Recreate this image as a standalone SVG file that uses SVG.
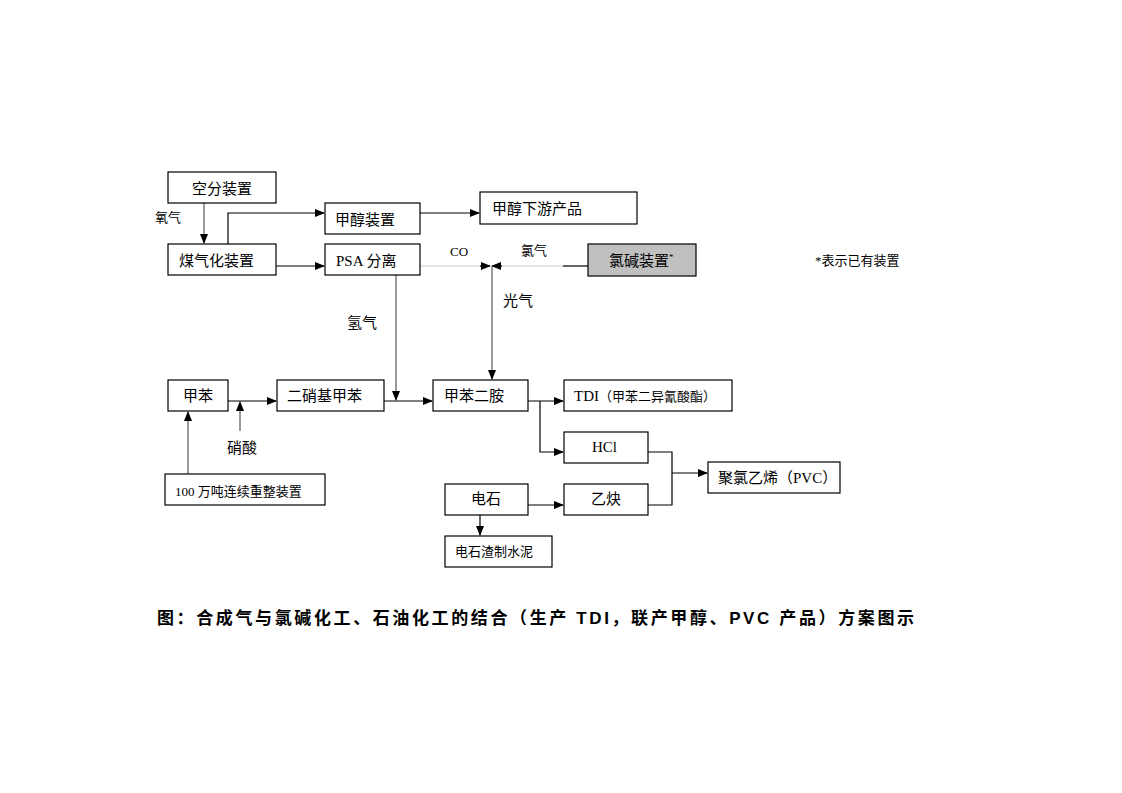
<svg xmlns="http://www.w3.org/2000/svg" width="1122" height="793" viewBox="0 0 1122 793">
<style>
.box{fill:#fff;stroke:#000;stroke-width:1.2}
.gbox{fill:#c0c0c0;stroke:#000;stroke-width:1.2}
.t{font-family:"Liberation Serif","Noto Sans CJK SC",serif;font-size:15px;fill:#000}
.s{font-family:"Liberation Serif","Noto Sans CJK SC",serif;font-size:13px;fill:#000}
.ln{fill:none;stroke:#000;stroke-width:1.2}
.gl{fill:none;stroke:#777;stroke-width:1.5}
.lg{fill:none;stroke:#ccc;stroke-width:1.2}
.title{font-family:"Liberation Sans","Noto Sans CJK SC",sans-serif;font-size:17px;font-weight:bold;fill:#000}
</style>
<defs>
<marker id="ah" markerWidth="10" markerHeight="8" refX="9" refY="4" orient="auto" markerUnits="userSpaceOnUse">
<path d="M0,0 L10,4 L0,8 Z" fill="#000"/>
</marker>
</defs>
<rect width="1122" height="793" fill="#fff"/>
<g id="connectors">
<path class="gl" d="M204,203 V243" marker-end="url(#ah)"/>
<path class="ln" d="M228,244 V213 H324" marker-end="url(#ah)"/>
<path class="ln" d="M276,266 H324" marker-end="url(#ah)"/>
<path class="ln" d="M420,213 H479" marker-end="url(#ah)"/>
<path class="lg" d="M420,266 H489"/>
<path class="ln" d="M480,266 H490" marker-end="url(#ah)"/>
<path class="lg" d="M563,266 H493"/>
<path class="ln" d="M588,266 H563"/>
<path class="ln" d="M502,266 H492" marker-end="url(#ah)"/>
<path class="gl" d="M492,267 V379" marker-end="url(#ah)"/>
<path class="gl" d="M396,275 V400" marker-end="url(#ah)"/>
<path class="ln" d="M384,401 H432" marker-end="url(#ah)"/>
<path class="ln" d="M228,401 H276" marker-end="url(#ah)"/>
<path class="gl" d="M240,431 V402" marker-end="url(#ah)"/>
<path class="gl" d="M188,474 V412" marker-end="url(#ah)"/>
<path class="ln" d="M528,401 H563" marker-end="url(#ah)"/>
<path class="ln" d="M540,401 V452 H563" marker-end="url(#ah)"/>
<path class="ln" d="M648,452 H672 V505 H648"/>
<path class="ln" d="M672,473 H707" marker-end="url(#ah)"/>
<path class="ln" d="M528,505 H563" marker-end="url(#ah)"/>
<path class="ln" d="M480,515 V535" marker-end="url(#ah)"/>
</g>
<g id="kongfen"><rect class="box" x="168" y="172" width="108" height="31"/><text class="t" x="192" y="194">空分装置</text></g>
<g id="meiqihua"><rect class="box" x="168" y="244" width="108" height="31"/><text class="t" x="179" y="266">煤气化装置</text></g>
<g id="jiachun"><rect class="box" x="325" y="203" width="95" height="31"/><text class="t" x="335" y="225">甲醇装置</text></g>
<g id="psa"><rect class="box" x="325" y="244" width="95" height="31"/><text class="t" x="336" y="266">PSA 分离</text></g>
<g id="xiayou"><rect class="box" x="480" y="192" width="157" height="32"/><text class="t" x="492" y="214">甲醇下游产品</text></g>
<g id="lvjian"><rect class="gbox" x="588" y="244" width="108" height="32"/><text class="t" x="609" y="266">氯碱装置<tspan font-size="9" dy="-6">*</tspan></text></g>
<g id="jiaben"><rect class="box" x="168" y="380" width="60" height="31"/><text class="t" x="183" y="401">甲苯</text></g>
<g id="erxiaoji"><rect class="box" x="277" y="380" width="107" height="31"/><text class="t" x="287" y="401">二硝基甲苯</text></g>
<g id="erAn"><rect class="box" x="433" y="380" width="95" height="31"/><text class="t" x="444" y="401">甲苯二胺</text></g>
<g id="tdi"><rect class="box" x="564" y="380" width="168" height="31"/><text class="t" x="574" y="401">TDI<tspan font-size="13">（甲苯二异氰酸酯）</tspan></text></g>
<g id="hcl"><rect class="box" x="564" y="432" width="84" height="31"/><text class="t" x="592" y="452">HCl</text></g>
<g id="yique"><rect class="box" x="564" y="484" width="84" height="31"/><text class="t" x="591" y="504">乙炔</text></g>
<g id="dianshi"><rect class="box" x="445" y="484" width="83" height="31"/><text class="t" x="471" y="504">电石</text></g>
<g id="shuini"><rect class="box" x="445" y="536" width="107" height="31"/><text class="s" x="455" y="556">电石渣制水泥</text></g>
<g id="pvc"><rect class="box" x="708" y="462" width="132" height="31"/><text class="t" x="718" y="483">聚氯乙烯（PVC）</text></g>
<g id="chongzheng"><rect class="box" x="165" y="474" width="160" height="31"/><text class="s" x="175" y="496">100 万吨连续重整装置</text></g>
<g id="labels">
<text class="s" x="155" y="222">氧气</text>
<text class="s" x="450" y="256">CO</text>
<text class="s" x="521" y="255">氯气</text>
<text class="t" x="503" y="306">光气</text>
<text class="t" x="347" y="328">氢气</text>
<text class="t" x="227" y="453">硝酸</text>
<text class="s" x="815" y="265">*表示已有装置</text>
</g>
<text class="title" x="157" y="624" textLength="757" lengthAdjust="spacing">图：合成气与氯碱化工、石油化工的结合（生产 TDI，联产甲醇、PVC 产品）方案图示</text>
</svg>
